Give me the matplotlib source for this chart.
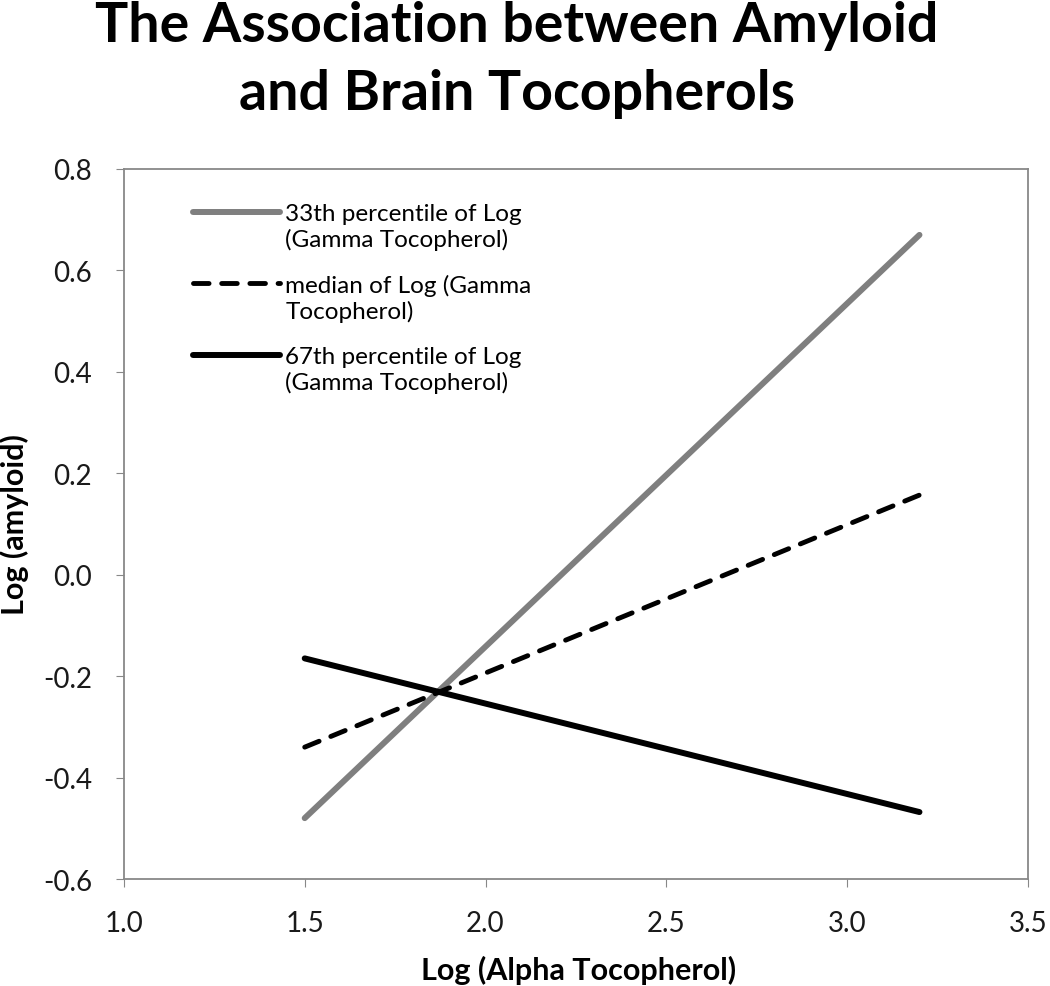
import matplotlib.pyplot as plt
from matplotlib.legend_handler import HandlerLine2D

# x range of the fitted lines
x_vals = [1.5, 3.2]
# log(amyloid) at the two ends for each gamma tocopherol level
y_p33 = [-0.48, 0.67]
y_median = [-0.34, 0.157]
y_p67 = [-0.165, -0.468]

labels = ["33th percentile of Log\n(Gamma Tocopherol)",
          "median of Log (Gamma\nTocopherol)",
          "67th percentile of Log\n(Gamma Tocopherol)"]

x_ticks = [1.0, 1.5, 2.0, 2.5, 3.0, 3.5]
y_ticks = [-0.6, -0.4, -0.2, 0.0, 0.2, 0.4, 0.6, 0.8]

plt.rcParams['font.family'] = ['Lato', 'DejaVu Sans']


class FirstLineHandler(HandlerLine2D):
    # put the legend line next to the first line of a two-line label
    def create_artists(self, legend, orig_handle, xdescent, ydescent,
                       width, height, fontsize, trans):
        arts = super().create_artists(legend, orig_handle, xdescent, ydescent,
                                      width, height, fontsize, trans)
        for a in arts:
            a.set_ydata([y + 0.6 * fontsize for y in a.get_ydata()])
        return arts


fig = plt.figure(figsize=(10.5, 9.87), dpi=100)
ax = fig.add_axes([0.118, 0.1084, 0.861, 0.7194])

l1, = ax.plot(x_vals, y_p33, color="#7f7f7f", lw=4.3, solid_capstyle="round", label=labels[0])
l2, = ax.plot(x_vals, y_median, color="black", lw=3.5, ls=(0, (3.2, 2.6)),
              dash_capstyle="round", label=labels[1])
l3, = ax.plot(x_vals, y_p67, color="black", lw=4.3, solid_capstyle="round", label=labels[2])

ax.set_xlim(1.0, 3.5)
ax.set_ylim(-0.6, 0.8)
ax.set_xticks(x_ticks)
ax.set_yticks(y_ticks)
ax.set_xticklabels(["%.1f" % v for v in x_ticks])
ax.set_yticklabels(["%.1f" % v for v in y_ticks])
ax.tick_params(direction="out", length=6, color="#888888", labelsize=20,
               labelcolor="#1a1a1a")
ax.tick_params(axis="y", pad=17)
ax.tick_params(axis="x", pad=16)
for s in ax.spines.values():
    s.set_color("#888888")
    s.set_linewidth(1.3)

ax.set_xlabel("Log (Alpha Tocopherol)", fontsize=22, fontweight="bold")
ax.set_ylabel("Log (amyloid)", fontsize=22, fontweight="bold")
ax.xaxis.set_label_coords(0.503, -0.127)
ax.xaxis.label.set_va("center")
ax.yaxis.set_label_coords(-0.1206, 0.5)
ax.yaxis.label.set_va("center")

hm = FirstLineHandler()
ax.legend(handles=[l1, l2, l3], loc="upper left", bbox_to_anchor=(0.0763, 0.952),
          frameon=False, fontsize=17.5, handlelength=3.6, handletextpad=0.2,
          labelspacing=1.0, borderpad=0, borderaxespad=0,
          handler_map={l1: hm, l2: hm, l3: hm})

# title lines placed in pixels (baselines at y=42 and y=110 from the top)
fig.text(517, 987 - 42, "The Association between Amyloid", transform=None,
         ha="center", va="baseline", fontsize=40, fontweight="bold")
fig.text(517, 987 - 110, "and Brain Tocopherols", transform=None,
         ha="center", va="baseline", fontsize=40, fontweight="bold")

plt.savefig("out.png", dpi=100)
